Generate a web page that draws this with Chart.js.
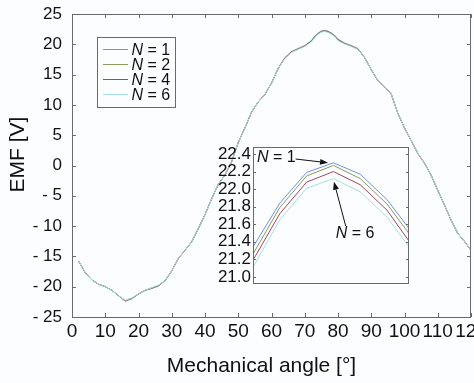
<!DOCTYPE html>
<html>
<head>
<meta charset="utf-8">
<script src="https://cdn.jsdelivr.net/npm/chart.js@4.4.1/dist/chart.umd.min.js"></script>
<style>
  html, body { margin: 0; padding: 0; background: #fcfdfe; }
  #wrap { position: relative; width: 474px; height: 383px; overflow: hidden; }
  #main { position: absolute; left: 0; top: 0; }
  #inset { position: absolute; left: 205px; top: 140px; }
</style>
</head>
<body>
<div id="wrap">
  <canvas id="main" width="474" height="383"></canvas>
  <canvas id="inset" width="210" height="150"></canvas>
</div>
<script>
// Mechanical angle [deg] of each sample
const angle = [2,4,6,8,10,12,14,16,18,20,22,24,26,28,30,32,34,36,38,40,42,44,46,48,50,52,54,56,58,60,62,64,66,68,70,72,73,74,75,76,77,78,79,80,82,84,86,88,90,92,94,96,98,100,102,104,106,108,110,112,114,116,118,120];

// Back-EMF [V] for each number of segments N
const emfN1 = [-15.8,-17.7,-18.9,-19.6,-20.0,-20.6,-21.5,-22.4,-22.0,-21.2,-20.6,-20.3,-19.9,-19.0,-17.4,-15.3,-14.0,-12.6,-10.4,-8.1,-5.5,-3.1,-1.6,0.6,3.8,6.2,8.8,10.5,11.7,13.6,16.0,17.8,18.8,19.3,19.8,20.6,21.34,21.84,22.19,22.30,22.17,21.88,21.48,20.85,20.2,19.8,19.3,17.8,15.8,14.0,13.0,11.8,8.6,6.2,4.1,2.0,0.4,-1.6,-4.1,-6.5,-9.0,-11.2,-12.5,-14.0];
const emfN2 = [-15.8,-17.7,-18.9,-19.6,-20.0,-20.6,-21.5,-22.35,-21.95,-21.2,-20.6,-20.25,-19.85,-19.0,-17.4,-15.3,-14.0,-12.6,-10.4,-8.1,-5.5,-3.1,-1.6,0.6,3.8,6.2,8.8,10.5,11.7,13.6,16.0,17.75,18.75,19.25,19.75,20.55,21.26,21.79,22.15,22.27,22.12,21.83,21.42,20.8,20.15,19.75,19.25,17.8,15.8,14.0,13.0,11.8,8.6,6.2,4.1,2.0,0.4,-1.6,-4.1,-6.5,-9.0,-11.2,-12.5,-14.0];
const emfN4 = [-15.8,-17.7,-18.9,-19.6,-20.0,-20.6,-21.5,-22.3,-21.9,-21.2,-20.6,-20.2,-19.8,-19.0,-17.4,-15.3,-14.0,-12.6,-10.4,-8.1,-5.5,-3.1,-1.6,0.6,3.8,6.2,8.8,10.5,11.7,13.6,16.0,17.7,18.7,19.2,19.7,20.5,21.19,21.72,22.08,22.20,22.05,21.76,21.33,20.7,20.1,19.7,19.2,17.8,15.8,14.0,13.0,11.8,8.6,6.2,4.1,2.0,0.4,-1.6,-4.1,-6.5,-9.0,-11.2,-12.5,-14.0];
const emfN6 = [-15.8,-17.7,-18.9,-19.6,-20.0,-20.6,-21.5,-22.25,-21.85,-21.2,-20.6,-20.15,-19.75,-19.0,-17.4,-15.3,-14.0,-12.6,-10.4,-8.1,-5.5,-3.1,-1.6,0.6,3.8,6.2,8.8,10.5,11.7,13.6,16.0,17.65,18.65,19.15,19.65,20.4,21.11,21.65,22.01,22.12,21.97,21.68,21.27,20.6,20.05,19.65,19.15,17.8,15.8,14.0,13.0,11.8,8.6,6.2,4.1,2.0,0.4,-1.6,-4.1,-6.5,-9.0,-11.2,-12.5,-14.0];

const segmentCounts = ['1', '2', '4', '6'];
const seriesValues = [emfN1, emfN2, emfN4, emfN6];

// Tick values
const xTicks = [0,10,20,30,40,50,60,70,80,90,100,110,120];
const yTicks = [-25,-20,-15,-10,-5,0,5,10,15,20,25];
const insetYTicks = [21.0,21.2,21.4,21.6,21.8,22.0,22.2,22.4];

// Styling
const lineColors = ['#6f94dc', '#8a9b5e', '#a64660', '#a6e0dc'];
const FONT = '"Liberation Sans", Arial, Helvetica, sans-serif';
const BG = '#fcfdfe';
const FRAME = '#6a6a6a';

function makeDatasets() {
  return segmentCounts.map((n, i) => ({
    label: 'N = ' + n,
    data: angle.map((a, k) => ({ x: a, y: seriesValues[i][k] })),
    borderColor: lineColors[i],
    borderWidth: 1,
    pointRadius: 0,
    tension: 0,
    fill: false,
    order: segmentCounts.length - i   // larger N drawn on top
  }));
}

function fixedTicks(list) {
  return scale => { scale.ticks = list.map(v => ({ value: v })); };
}

// Axes box with inward tick marks on all requested sides
const frameTicks = {
  id: 'frameTicks',
  afterDatasetsDraw(chart, args, o) {
    const { ctx, chartArea: a, scales } = chart;
    ctx.save();
    ctx.strokeStyle = o.color;
    ctx.lineWidth = 1;
    ctx.beginPath();
    const L = o.len;
    if (o.xSides) {
      for (const t of scales.x.ticks) {
        const px = Math.round(scales.x.getPixelForValue(t.value)) + 0.5;
        ctx.moveTo(px, a.bottom); ctx.lineTo(px, a.bottom - L);
        ctx.moveTo(px, a.top); ctx.lineTo(px, a.top + L);
      }
    }
    if (o.ySides) {
      for (const t of scales.y.ticks) {
        const py = Math.round(scales.y.getPixelForValue(t.value)) + 0.5;
        ctx.moveTo(a.left, py); ctx.lineTo(a.left + L, py);
        ctx.moveTo(a.right, py); ctx.lineTo(a.right - L, py);
      }
    }
    ctx.stroke();
    ctx.strokeRect(a.left + 0.5, a.top + 0.5, a.right - a.left - 1, a.bottom - a.top);
    ctx.restore();
  }
};

// Axis titles of the main plot
const axisTitles = {
  id: 'axisTitles',
  afterDraw(chart) {
    const { ctx, chartArea: a } = chart;
    ctx.save();
    ctx.fillStyle = '#111';
    ctx.font = '21px ' + FONT;
    ctx.textAlign = 'center';
    ctx.textBaseline = 'middle';
    ctx.fillText('Mechanical angle [\u00b0]', (a.left + a.right) / 2 - 10, a.bottom + 49);
    ctx.translate(a.left - 54, (a.top + a.bottom) / 2 - 11);
    ctx.rotate(-Math.PI / 2);
    ctx.fillText('EMF [V]', 0, 0);
    ctx.restore();
  }
};

function drawNLabel(ctx, x, y, n, size) {
  ctx.font = 'italic ' + size + 'px ' + FONT;
  ctx.fillText('N', x, y);
  const w = ctx.measureText('N').width;
  ctx.font = size + 'px ' + FONT;
  ctx.fillText(' = ' + n, x + w, y);
}

// Boxed legend with italic N
const legendBox = {
  id: 'legendBox',
  afterDraw(chart) {
    const { ctx, chartArea: a } = chart;
    const bx = a.left + 25.5, by = a.top + 23.5, bw = 78, bh = 70;
    ctx.save();
    ctx.fillStyle = BG;
    ctx.fillRect(bx, by, bw, bh);
    ctx.strokeStyle = FRAME;
    ctx.lineWidth = 1;
    ctx.strokeRect(bx, by, bw, bh);
    ctx.textBaseline = 'middle';
    chart.data.datasets.forEach((ds, i) => {
      const y = Math.round(a.top + 35 + i * 15.1) + 0.5;
      ctx.strokeStyle = ds.borderColor;
      ctx.beginPath();
      ctx.moveTo(bx + 5.5, y);
      ctx.lineTo(bx + 30.5, y);
      ctx.stroke();
      ctx.fillStyle = '#111';
      drawNLabel(ctx, bx + 34, y + 1, segmentCounts[i], 16);
    });
    ctx.restore();
  }
};

function arrow(ctx, x1, y1, x2, y2) {
  const ang = Math.atan2(y2 - y1, x2 - x1);
  const hl = 8, hw = 3;
  ctx.beginPath();
  ctx.moveTo(x1, y1);
  ctx.lineTo(x2 - hl * Math.cos(ang), y2 - hl * Math.sin(ang));
  ctx.stroke();
  ctx.beginPath();
  ctx.moveTo(x2, y2);
  ctx.lineTo(x2 - hl * Math.cos(ang) + hw * Math.sin(ang), y2 - hl * Math.sin(ang) - hw * Math.cos(ang));
  ctx.lineTo(x2 - hl * Math.cos(ang) - hw * Math.sin(ang), y2 - hl * Math.sin(ang) + hw * Math.cos(ang));
  ctx.closePath();
  ctx.fill();
}

// Callouts in the zoomed view, placed in data coordinates
const insetNotes = {
  id: 'insetNotes',
  afterDraw(chart, args, o) {
    const { ctx, scales: { x, y } } = chart;
    ctx.save();
    ctx.fillStyle = '#111';
    ctx.strokeStyle = '#111';
    ctx.lineWidth = 1;
    ctx.textBaseline = 'middle';
    for (const n of o.notes) {
      drawNLabel(ctx, x.getPixelForValue(n.text[0]), y.getPixelForValue(n.text[1]), n.n, 16);
      arrow(ctx, x.getPixelForValue(n.from[0]), y.getPixelForValue(n.from[1]),
                 x.getPixelForValue(n.to[0]), y.getPixelForValue(n.to[1]));
    }
    ctx.restore();
  }
};

new Chart(document.getElementById('main'), {
  type: 'line',
  data: { datasets: makeDatasets() },
  options: {
    responsive: false,
    animation: false,
    devicePixelRatio: 1,
    layout: { padding: { top: 14, right: 3, left: 0, bottom: 0 } },
    plugins: {
      legend: { display: false },
      tooltip: { enabled: false },
      frameTicks: { color: FRAME, len: 4, xSides: true, ySides: true }
    },
    scales: {
      x: {
        type: 'linear', min: 0, max: 120,
        afterBuildTicks: fixedTicks(xTicks),
        afterFit: s => { s.height = 66; s.paddingLeft = 0; s.paddingRight = 0; },
        grid: { display: false, drawTicks: false },
        border: { display: false },
        ticks: { font: { family: FONT, size: 19 }, color: '#111', padding: 3, maxRotation: 0, autoSkip: false }
      },
      y: {
        type: 'linear', min: -25, max: 25,
        afterBuildTicks: fixedTicks(yTicks),
        afterFit: s => { s.width = 72; s.paddingTop = 0; s.paddingBottom = 0; },
        grid: { display: false, drawTicks: false },
        border: { display: false },
        ticks: {
          font: { family: FONT, size: 17 }, color: '#111', padding: 10, autoSkip: false,
          callback: v => v < 0 ? '- ' + Math.abs(v) : String(v)
        }
      }
    }
  },
  plugins: [frameTicks, axisTitles, legendBox]
});

new Chart(document.getElementById('inset'), {
  type: 'line',
  data: { datasets: makeDatasets() },
  options: {
    responsive: false,
    animation: false,
    devicePixelRatio: 1,
    layout: { padding: { top: 7, right: 6, left: 0, bottom: 7 } },
    plugins: {
      legend: { display: false },
      tooltip: { enabled: false },
      frameTicks: { color: FRAME, len: 3, xSides: false, ySides: true },
      insetNotes: {
        notes: [
          { n: '1', text: [73.15, 22.362], from: [74.59, 22.343], to: [75.8, 22.30] },
          { n: '6', text: [76.09, 21.495], from: [76.46, 21.578], to: [76.02, 22.084] }
        ]
      }
    },
    scales: {
      x: { type: 'linear', min: 73, max: 78.82, display: false },
      y: {
        type: 'linear', min: 20.93, max: 22.48,
        afterBuildTicks: fixedTicks(insetYTicks),
        afterFit: s => { s.width = 48; s.paddingTop = 0; s.paddingBottom = 0; },
        grid: { display: false, drawTicks: false },
        border: { display: false },
        ticks: {
          font: { family: FONT, size: 17 }, color: '#111', padding: 2, autoSkip: false,
          callback: v => v.toFixed(1)
        }
      }
    }
  },
  plugins: [frameTicks, insetNotes]
});
</script>
</body>
</html>
